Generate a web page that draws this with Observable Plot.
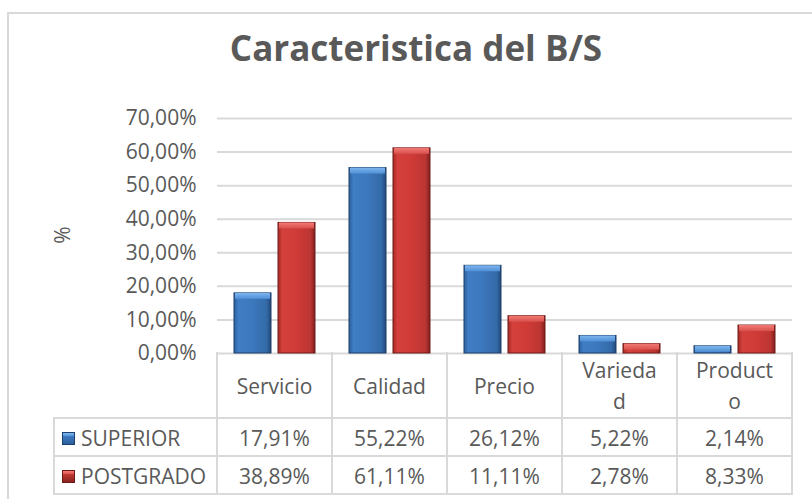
<!DOCTYPE html>
<html><head><meta charset="utf-8">
<script src="https://cdn.jsdelivr.net/npm/d3@7"></script>
<script src="https://cdn.jsdelivr.net/npm/@observablehq/plot@0.6"></script>
<style>
html,body{margin:0;padding:0;background:#fff;overflow:hidden;}
#chart{position:relative;width:812px;height:499px;overflow:hidden;font-family:"Open Sans",sans-serif;color:#595959;}
#frame{position:absolute;left:7px;top:12px;width:805px;height:487px;border-top:2px solid #d9d9d9;border-left:2px solid #d9d9d9;box-sizing:border-box;}
#title{position:absolute;left:8px;width:816px;top:24px;text-align:center;font-weight:700;font-size:35px;line-height:48px;color:#595959;}
#ylab{position:absolute;left:50px;top:223px;width:24px;height:24px;line-height:24px;text-align:center;font-size:21px;transform:rotate(-90deg);}
#plot{position:absolute;left:0;top:0;}
.hl{position:absolute;height:2px;background:#d9d9d9;}
.vl{position:absolute;width:2px;background:#d9d9d9;}
.cell{position:absolute;display:flex;align-items:center;justify-content:center;text-align:center;font-size:21px;line-height:31px;white-space:pre-line;color:#595959;}
.key{display:inline-block;width:13px;height:13px;margin-right:6px;box-sizing:border-box;}
</style>
</head><body>
<div id="chart">
  <div id="frame"></div>
  <div id="plot"></div>
  <div id="title">Caracteristica del B/S</div>
  <div id="ylab">%</div>
</div>
<script>
const categories = ["Servicio", "Calidad", "Precio", "Variedad", "Producto"];
const categoryLabels = ["Servicio", "Calidad", "Precio", "Varieda\nd", "Product\no"];
const series = ["SUPERIOR", "POSTGRADO"];
const superior = [17.91, 55.22, 26.12, 5.22, 2.14];
const postgrado = [38.89, 61.11, 11.11, 2.78, 8.33];
const yTicks = [0, 10, 20, 30, 40, 50, 60, 70];

const fmt = v => v.toFixed(2).replace(".", ",") + "%";
const seriesValues = [superior, postgrado];
const data = categories.flatMap((c, i) => series.map((s, j) => ({cat: c, s, v: seriesValues[j][i]})));

const W = 812, H = 499, mL = 217, mR = 20, mT = 118, mB = 146;
const plot = Plot.plot({
  width: W, height: H,
  marginTop: mT, marginBottom: mB, marginLeft: mL, marginRight: mR,
  style: {fontFamily: "'Open Sans', sans-serif", background: "transparent", overflow: "visible"},
  fx: {domain: categories, padding: 0, axis: null, label: null},
  x: {domain: series, paddingInner: 0.159, paddingOuter: 0.386, axis: null},
  y: {domain: [0, 70], axis: null},
  color: {domain: series, range: ["url(#gBlue)", "url(#gRed)"]},
  marks: [
    Plot.gridY(yTicks, {stroke: "#d9d9d9", strokeOpacity: 1, strokeWidth: 2}),
    Plot.axisY(yTicks, {tickSize: 0, tickPadding: 21, tickFormat: fmt, fontSize: 21, fill: "#595959", label: null}),
    Plot.barY(data, {fx: "cat", x: "s", y: "v", fill: "s", stroke: d => d.s === "SUPERIOR" ? "#1d3f6b" : "#6e1a18", strokeWidth: 1}),
    Plot.barY(data, {fx: "cat", x: "s", y1: "v", y2: "v", insetBottom: -6, insetLeft: 1, insetRight: 1, fill: d => d.s === "SUPERIOR" ? "url(#tBlue)" : "url(#tRed)"})
  ]
});
const defs = d3.select(plot).insert("defs", ":first-child");
function grad(id, stops, vertical) {
  const g = defs.append("linearGradient").attr("id", id).attr("x1", 0).attr("y1", 0)
    .attr("x2", vertical ? 0 : 1).attr("y2", vertical ? 1 : 0);
  stops.forEach(([o, c]) => g.append("stop").attr("offset", o).attr("stop-color", c));
}
grad("gBlue", [[0, "#2d609c"], [0.12, "#3f7dc4"], [0.5, "#3c78bd"], [0.88, "#346aa8"], [1, "#23497a"]]);
grad("gRed", [[0, "#a52b28"], [0.12, "#d4403c"], [0.5, "#cf3b37"], [0.88, "#bb3532"], [1, "#7f201e"]]);
grad("tBlue", [[0, "#7fb6ee"], [1, "#4f8fd6"]], true);
grad("tRed", [[0, "#f27a76"], [1, "#d9504c"]], true);
document.getElementById("plot").appendChild(plot);

// data table under the plot, aligned with the fx scale
const fx = plot.scale("fx");
const y = plot.scale("y");
const colW = fx.bandwidth !== undefined ? fx.bandwidth : (W - mL - mR) / categories.length;
const x0 = mL;
const tableLeft = 54;
const top0 = Math.round(y.apply(0)) - 1;
const headerH = 66, rowH = 38;
const chart = document.getElementById("chart");
function el(cls, style, text) {
  const d = document.createElement("div");
  d.className = cls;
  Object.assign(d.style, style);
  if (text !== undefined) d.textContent = text;
  chart.appendChild(d);
  return d;
}
const right = x0 + colW * categories.length;
const rowTops = [top0 + headerH, top0 + headerH + rowH, top0 + headerH + 2 * rowH];
rowTops.forEach(t => el("hl", {left: (tableLeft - 1) + "px", top: (t - 1) + "px", width: (right - tableLeft + 2) + "px"}));
for (let i = 0; i <= categories.length; i++) {
  el("vl", {left: (x0 + i * colW - 1) + "px", top: top0 + "px", height: (headerH + 2 * rowH + 1) + "px"});
}
el("vl", {left: (tableLeft - 1) + "px", top: (top0 + headerH) + "px", height: (2 * rowH + 1) + "px"});
categoryLabels.forEach((c, i) => {
  el("cell", {left: (x0 + i * colW) + "px", top: (top0 + 2) + "px", width: colW + "px", height: (headerH - 2) + "px"}, c);
});
const keyStyles = [
  "linear-gradient(180deg,#7fb6ee 0,#4f8fd6 30%,#3c78bd 31%,#2d609c 100%)",
  "linear-gradient(180deg,#f27a76 0,#d9504c 30%,#c0392f 31%,#8a2220 100%)"
];
const keyBorders = ["#1d3f6b", "#6e1a18"];
series.forEach((s, j) => {
  const t = top0 + headerH + j * rowH + 1;
  const lc = el("cell", {left: (tableLeft + 8) + "px", top: t + "px", width: (x0 - tableLeft - 8) + "px", height: rowH + "px", justifyContent: "flex-start"});
  const k = document.createElement("span");
  k.className = "key";
  k.style.background = keyStyles[j];
  k.style.border = "1px solid " + keyBorders[j];
  lc.appendChild(k);
  lc.appendChild(document.createTextNode(s));
  seriesValues[j].forEach((v, i) => {
    el("cell", {left: (x0 + i * colW) + "px", top: t + "px", width: colW + "px", height: rowH + "px"}, fmt(v));
  });
});
</script>
</body></html>
